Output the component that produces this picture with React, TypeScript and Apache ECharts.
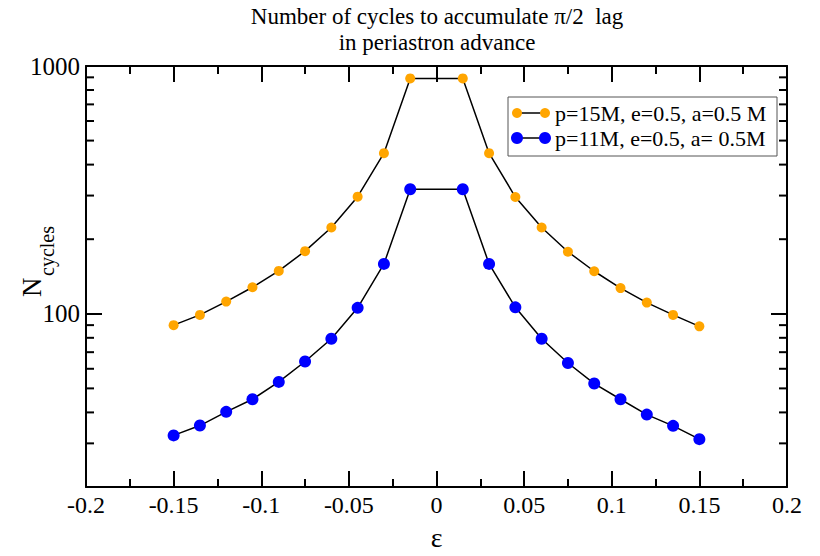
import React, { useEffect, useRef } from "react";
import * as echarts from "echarts";

const FONT = "Liberation Serif, Times New Roman, serif";

const epsValues = [
  -0.15, -0.135, -0.12, -0.105, -0.09, -0.075, -0.06, -0.045, -0.03, -0.015,
  0.015, 0.03, 0.045, 0.06, 0.075, 0.09, 0.105, 0.12, 0.135, 0.15,
];
const p15Values = [
  90, 99, 112, 128, 149, 179, 223, 297, 445, 891,
  891, 445, 296, 223, 178, 148.5, 127, 111, 99, 89,
];
const p11Values = [
  32.3, 35.4, 40.2, 45.2, 53.1, 64.2, 79.3, 105.7, 159, 318,
  318, 159, 106.2, 79.3, 63.3, 52.3, 45.2, 39.2, 35.3, 31.2,
];
const seriesNames = ["p=15M, e=0.5, a=0.5 M", "p=11M, e=0.5, a= 0.5M"];
const seriesColors = ["#FFA500", "#0000FF"];
const symbolSizes = [10, 12];
const yMajorLabels = [100, 1000];
const yMinorTicks = [30, 40, 50, 60, 70, 80, 90, 200, 300, 400, 500, 600, 700, 800, 900];
const titleLines = ["Number of cycles to accumulate \u03c0/2  lag", "in periastron advance"];
const X_MIN = -0.2;
const X_MAX = 0.2;
const X_STEP = 0.05;
const Y_MIN = 20;
const Y_MAX = 1000;

export default function App() {
  const ref = useRef<HTMLDivElement>(null);
  useEffect(() => {
    if (!ref.current) return;
    const chart = echarts.init(ref.current, undefined, { renderer: "svg" });
    const axisLine = { show: true, onZero: false, lineStyle: { color: "#000", width: 2 } };
    const xAxisCommon = {
      type: "value" as const,
      min: X_MIN,
      max: X_MAX,
      interval: X_STEP,
      axisLine,
      axisTick: { show: true, inside: true, length: 16, lineStyle: { color: "#000", width: 2 } },
      minorTick: { show: true, splitNumber: 2, length: 8, lineStyle: { color: "#000", width: 2 } },
      splitLine: { show: false },
    };
    const yAxisCommon = {
      type: "log" as const,
      logBase: 10,
      min: Y_MIN,
      max: Y_MAX,
      axisLine,
      axisTick: { show: true, inside: true, length: 16, lineStyle: { color: "#000", width: 2 } },
      minorTick: { show: false },
      splitLine: { show: false },
    };
    const lineSeries = [p15Values, p11Values].map((vals, i) => ({
      type: "line",
      name: seriesNames[i],
      data: epsValues.map((x, k) => [x, vals[k]]),
      symbol: "circle",
      symbolSize: symbolSizes[i],
      showSymbol: true,
      lineStyle: { color: "#000", width: 1.5 },
      itemStyle: { color: seriesColors[i] },
      z: 3,
    }));

    const legendX = 508;
    const legendY = 97;
    const rowH = 25;
    const legendChildren: any[] = [
      {
        type: "rect",
        shape: { x: legendX, y: legendY, width: 269, height: 59 },
        style: { fill: "#fff", stroke: "#555", lineWidth: 1 },
      },
    ];
    seriesNames.forEach((name, i) => {
      const cy = legendY + 16 + i * rowH;
      legendChildren.push(
        { type: "line", shape: { x1: 517, y1: cy, x2: 545, y2: cy }, style: { stroke: "#000", lineWidth: 1.5 } },
        { type: "circle", shape: { cx: 517, cy, r: symbolSizes[i] / 2 }, style: { fill: seriesColors[i] } },
        { type: "circle", shape: { cx: 545, cy, r: symbolSizes[i] / 2 }, style: { fill: seriesColors[i] } },
        {
          type: "text",
          x: 555,
          y: cy,
          style: { text: name, fontSize: 22, fontFamily: FONT, fill: "#000", textAlign: "left", textVerticalAlign: "middle" },
        }
      );
    });

    chart.setOption({
      animation: false,
      backgroundColor: "#fff",
      textStyle: { fontFamily: FONT },
      grid: { left: 86, top: 66, width: 701, height: 425, containLabel: false },
      xAxis: [
        {
          ...xAxisCommon,
          position: "bottom",
          name: "\u03b5",
          nameLocation: "middle",
          nameGap: 36,
          nameTextStyle: { fontFamily: FONT, fontSize: 28, color: "#000" },
          axisLabel: {
            show: true,
            margin: 6,
            fontFamily: FONT,
            fontSize: 24,
            color: "#000",
            formatter: (v: number) => String(Number(v.toFixed(3))),
          },
        },
        { ...xAxisCommon, position: "top", axisLabel: { show: false } },
      ],
      yAxis: [
        {
          ...yAxisCommon,
          position: "left",
          axisLabel: {
            show: true,
            margin: 6,
            fontFamily: FONT,
            fontSize: 25,
            color: "#000",
            formatter: (v: number) => (yMajorLabels.includes(Math.round(v)) ? String(Math.round(v)) : ""),
          },
        },
        { ...yAxisCommon, position: "right", axisLabel: { show: false } },
      ],
      series: [
        ...lineSeries,
        {
          type: "custom",
          name: "yMinorTicks",
          silent: true,
          xAxisIndex: 0,
          yAxisIndex: 0,
          data: yMinorTicks.map((v) => [X_MIN, v]),
          renderItem: (params: any, api: any) => {
            const v = api.value(1);
            const l = api.coord([X_MIN, v]);
            const r = api.coord([X_MAX, v]);
            return {
              type: "group",
              children: [
                { type: "line", shape: { x1: l[0], y1: l[1], x2: l[0] + 8, y2: l[1] }, style: { stroke: "#000", lineWidth: 2 } },
                { type: "line", shape: { x1: r[0] - 8, y1: r[1], x2: r[0], y2: r[1] }, style: { stroke: "#000", lineWidth: 2 } },
              ],
            };
          },
          z: 1,
        },
      ],
      graphic: [
        {
          type: "text",
          x: 437,
          y: 16,
          style: { text: titleLines[0], fontSize: 23, fontFamily: FONT, fill: "#000", textAlign: "center", textVerticalAlign: "middle" },
        },
        {
          type: "text",
          x: 437,
          y: 42,
          style: { text: titleLines[1], fontSize: 23, fontFamily: FONT, fill: "#000", textAlign: "center", textVerticalAlign: "middle" },
        },
        {
          type: "text",
          x: 32,
          y: 297,
          rotation: Math.PI / 2,
          style: { text: "N", fontSize: 27, fontFamily: FONT, fill: "#000", textAlign: "left", textVerticalAlign: "middle" },
        },
        {
          type: "text",
          x: 47,
          y: 276,
          rotation: Math.PI / 2,
          style: { text: "cycles", fontSize: 20, fontFamily: FONT, fill: "#000", textAlign: "left", textVerticalAlign: "middle" },
        },
        { type: "group", z: 10, children: legendChildren },
      ],
    });
    return () => chart.dispose();
  }, []);
  return (
    <div
      ref={ref}
      style={{ position: "fixed", left: 0, top: 0, width: 820, height: 556, background: "#fff" }}
    />
  );
}
